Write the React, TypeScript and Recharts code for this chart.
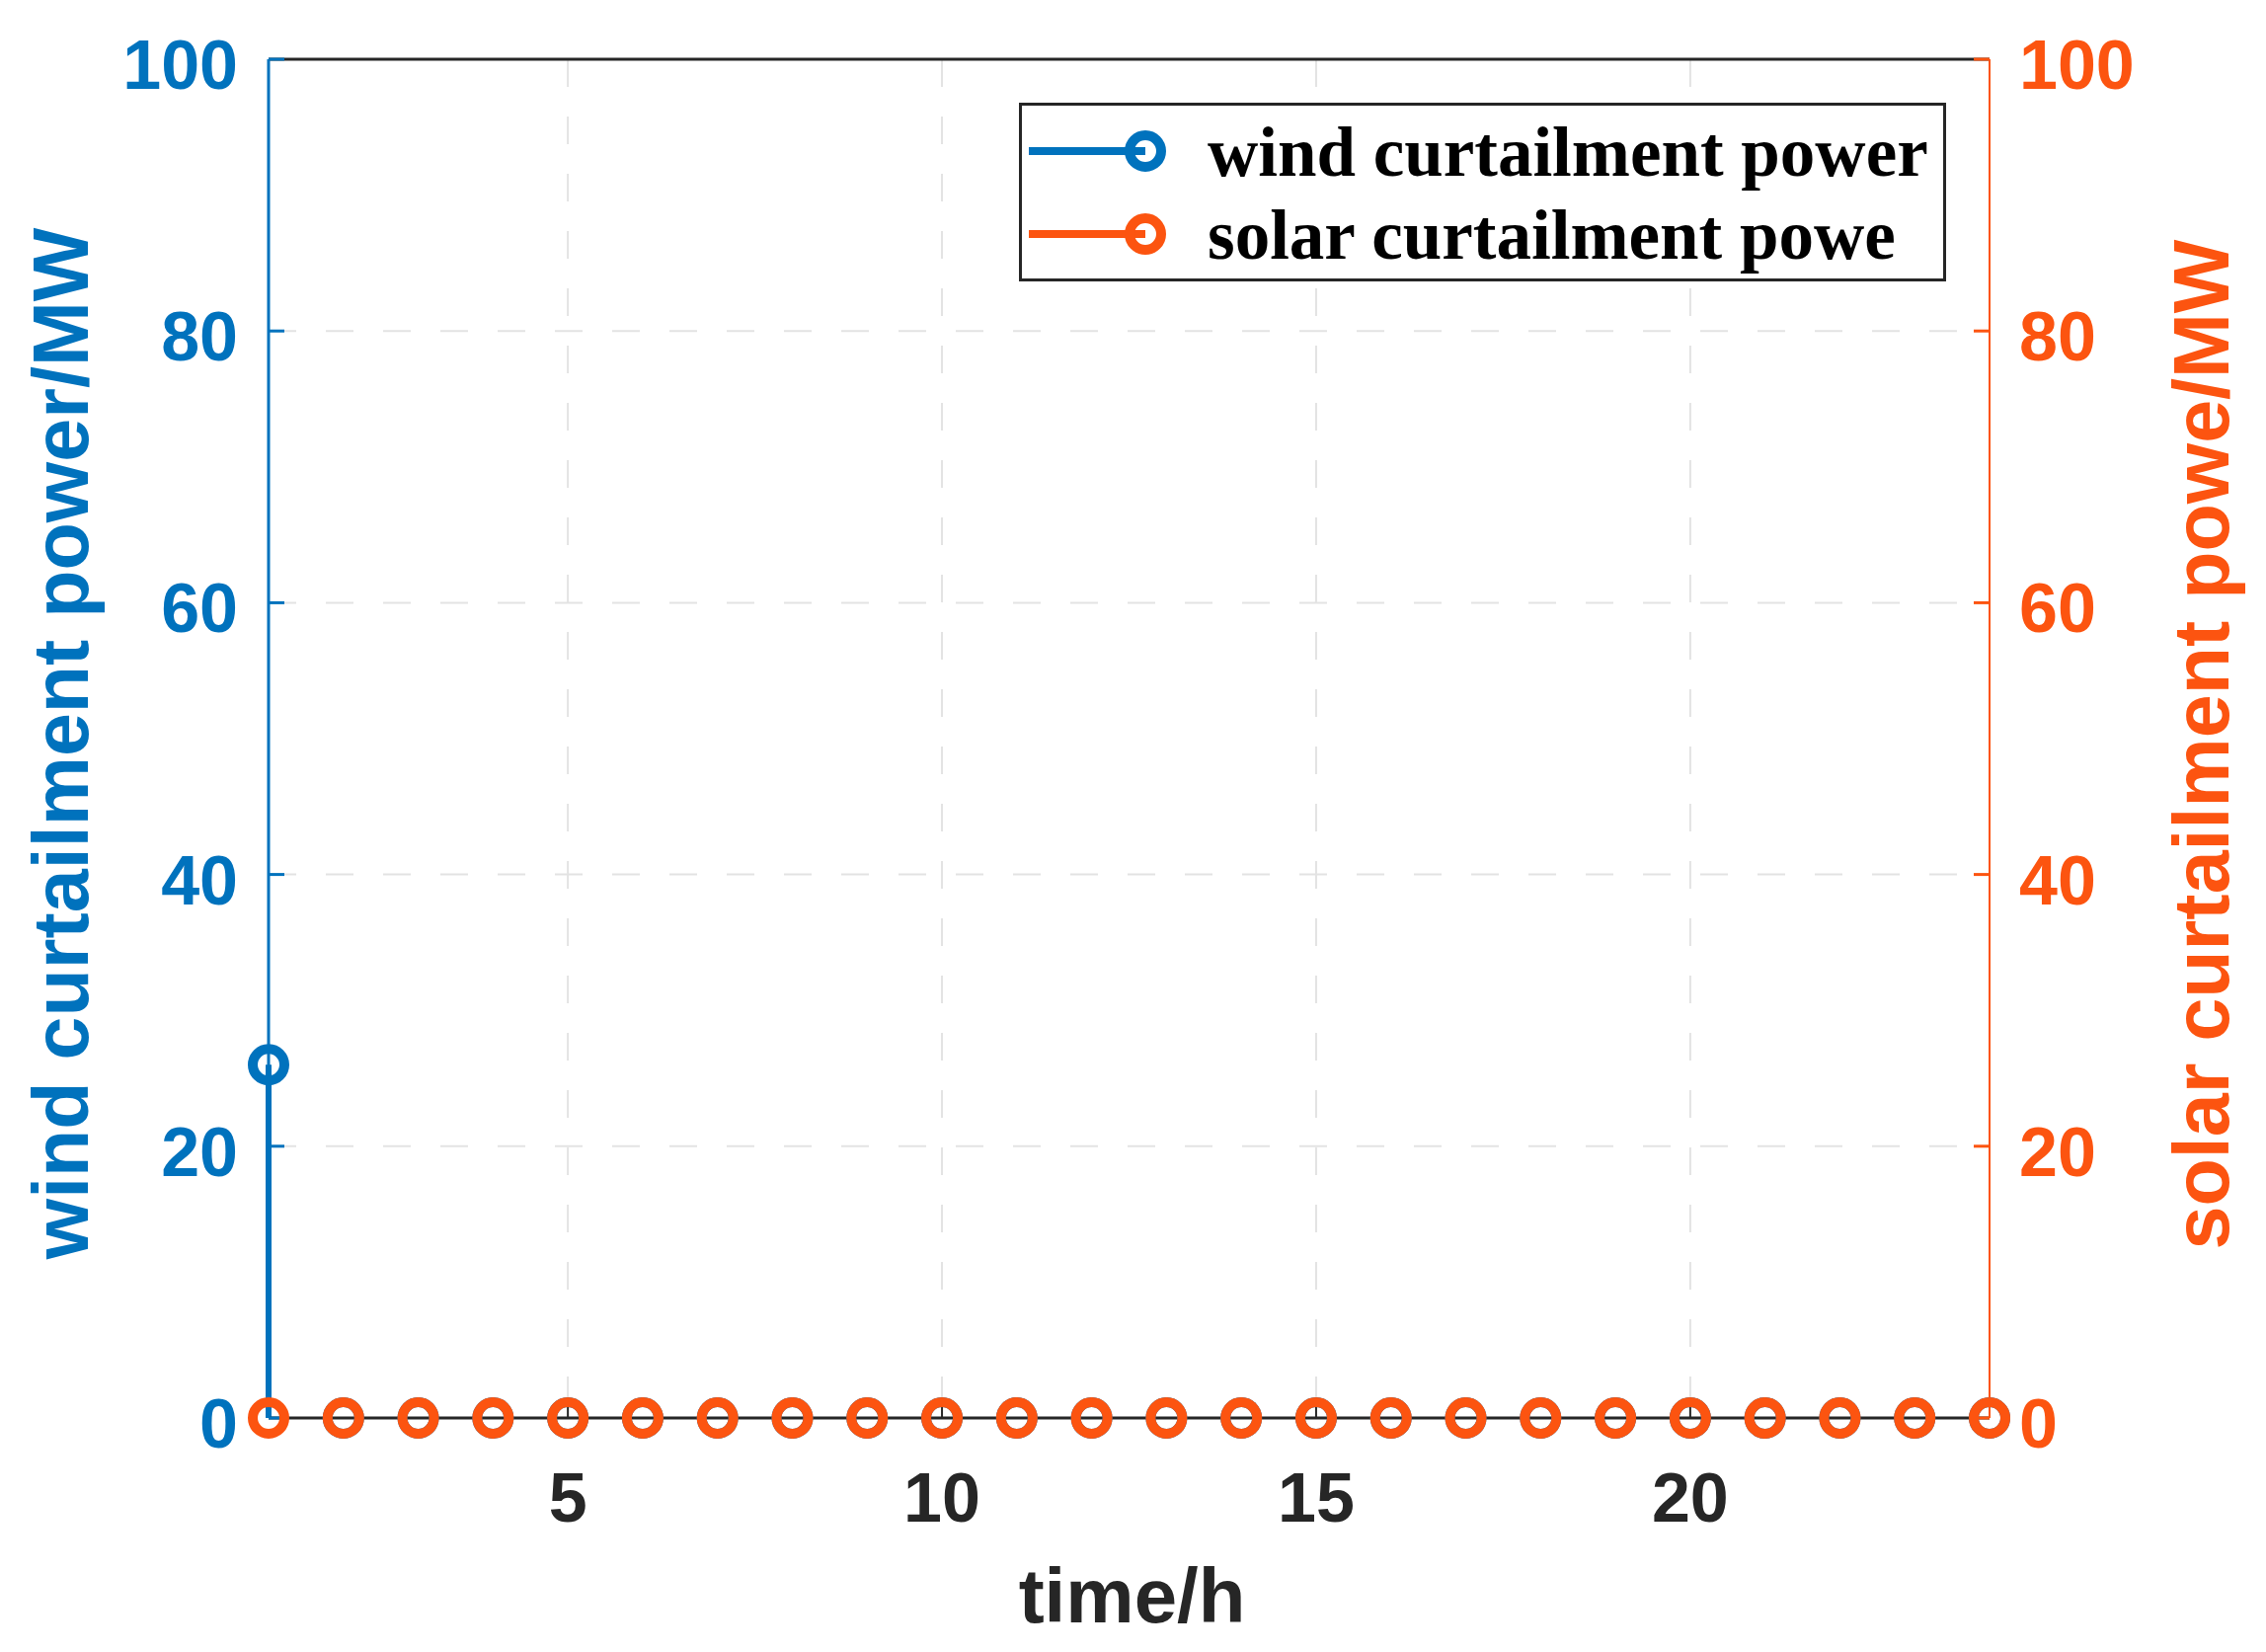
import React from "react";
import {
  ComposedChart,
  Scatter,
  ErrorBar,
  XAxis,
  YAxis,
  CartesianGrid,
  Legend,
} from "recharts";

// hourly curtailment (MW)
const hours = [1, 2, 3, 4, 5, 6, 7, 8, 9, 10, 11, 12, 13, 14, 15, 16, 17, 18, 19, 20, 21, 22, 23, 24];
const windCurtailment = [26, 0, 0, 0, 0, 0, 0, 0, 0, 0, 0, 0, 0, 0, 0, 0, 0, 0, 0, 0, 0, 0, 0, 0];
const solarCurtailment = [0, 0, 0, 0, 0, 0, 0, 0, 0, 0, 0, 0, 0, 0, 0, 0, 0, 0, 0, 0, 0, 0, 0, 0];

const xTicks = [5, 10, 15, 20];
const yTicks = [0, 20, 40, 60, 80, 100];

const BLUE = "#0072BD";
const ORANGE = "#FC5410";
const DARK = "#262626";
const SANS = "'Liberation Sans', Arial, sans-serif";
const SERIF = "'Liberation Serif', 'Times New Roman', serif";

const data = hours.map((h, i) => ({
  hour: h,
  wind: windCurtailment[i],
  solar: solarCurtailment[i],
  windStem: [windCurtailment[i], 0],
  solarStem: [solarCurtailment[i], 0],
}));

const seriesColor: Record<string, string> = { wind: BLUE, solar: ORANGE };
const legendOrder = ["wind", "solar"];

function ring(color: string) {
  return (p: any) => (
    <circle cx={p.cx} cy={p.cy} r={16} fill="none" stroke={color} strokeWidth={10} />
  );
}

const tickText = { fontSize: 70, fontWeight: "bold" as const, fontFamily: SANS };

function LeftTick({ x, y, payload }: any) {
  return (
    <text x={x - 31} y={y + 30} textAnchor="end" fill={BLUE} {...tickText}>
      {payload.value}
    </text>
  );
}

function RightTick({ x, y, payload }: any) {
  return (
    <text x={x + 30} y={y + 30} textAnchor="start" fill={ORANGE} {...tickText}>
      {payload.value}
    </text>
  );
}

function BottomTick({ x, y, payload }: any) {
  return (
    <text x={x} y={y + 105} textAnchor="middle" fill={DARK} {...tickText}>
      {payload.value}
    </text>
  );
}

function LegendBox({ payload }: any) {
  const rows = legendOrder
    .map((k) => (payload || []).find((e: any) => e.dataKey === k))
    .filter(Boolean);
  return (
    <div
      style={{
        width: 939,
        height: 181,
        boxSizing: "border-box",
        border: `3px solid ${DARK}`,
        background: "#fff",
      }}
    >
      <svg width={933} height={175} style={{ display: "block" }}>
        {rows.map((e: any, i: number) => {
          const cy = 46 + i * 84;
          const c = seriesColor[e.dataKey] || e.color;
          return (
            <g key={e.value}>
              <line x1={7} x2={125} y1={cy} y2={cy} stroke={c} strokeWidth={8} />
              <circle cx={125} cy={cy} r={16} fill="none" stroke={c} strokeWidth={10} />
              <text
                x={188}
                y={cy + 25}
                fill="#000"
                fontSize={71}
                fontWeight="bold"
                fontFamily={SERIF}
              >
                {e.value}
              </text>
            </g>
          );
        })}
      </svg>
    </div>
  );
}

export default function App() {
  return (
    <div style={{ position: "absolute", left: 0, top: 0, width: 2295, height: 1673, background: "#fff" }}>
      <ComposedChart width={2295} height={1673} data={data} margin={{ top: 59, right: 0, bottom: 0, left: 0 }}>
        <CartesianGrid
          xAxisId="bottom"
          yAxisId="left"
          stroke="#e3e3e3"
          strokeWidth={2}
          strokeDasharray="28 30"
        />
        <Legend
          layout="horizontal"
          verticalAlign="middle"
          align="center"
          content={<LegendBox />}
          wrapperStyle={{ position: "absolute", left: 1032, top: 104, width: 939, height: 181 }}
        />

        <Scatter
          name="wind curtailment power"
          dataKey="wind"
          xAxisId="bottom"
          yAxisId="left"
          fill={BLUE}
          shape={ring(BLUE)}
          isAnimationActive={false}
        >
          <ErrorBar dataKey="windStem" direction="y" width={0} stroke={BLUE} strokeWidth={6} isAnimationActive={false} />
        </Scatter>
        <Scatter
          name="solar curtailment powe"
          dataKey="solar"
          xAxisId="bottom"
          yAxisId="right"
          fill={ORANGE}
          shape={ring(ORANGE)}
          isAnimationActive={false}
        >
          <ErrorBar dataKey="solarStem" direction="y" width={0} stroke={ORANGE} strokeWidth={6} isAnimationActive={false} />
        </Scatter>

        <XAxis
          xAxisId="bottom"
          dataKey="hour"
          type="number"
          domain={[1, 24]}
          ticks={xTicks}
          interval={0}
          height={237}
          axisLine={{ stroke: DARK, strokeWidth: 3 }}
          tickLine={{ stroke: DARK, strokeWidth: 2 }}
          tickSize={-16}
          tickMargin={16}
          tick={<BottomTick />}
          label={{
            content: ({ viewBox }: any) => (
              <text
                x={viewBox.x + viewBox.width / 2 + 3}
                y={viewBox.y + 207}
                textAnchor="middle"
                fill={DARK}
                fontSize={78}
                fontWeight="bold"
                fontFamily={SANS}
              >
                time/h
              </text>
            ),
          }}
        />
        <XAxis
          xAxisId="top"
          orientation="top"
          dataKey="hour"
          type="number"
          domain={[1, 24]}
          ticks={xTicks}
          interval={0}
          height={1}
          axisLine={{ stroke: DARK, strokeWidth: 3 }}
          tickLine={{ stroke: DARK, strokeWidth: 2 }}
          tickSize={-16}
          tick={false}
        />
        <YAxis
          yAxisId="left"
          orientation="left"
          domain={[0, 100]}
          ticks={yTicks}
          interval={0}
          width={272}
          axisLine={{ stroke: BLUE, strokeWidth: 3 }}
          tickLine={{ stroke: BLUE, strokeWidth: 3 }}
          tickSize={-16}
          tickMargin={16}
          tick={<LeftTick />}
          label={{
            content: ({ viewBox }: any) => {
              const cy = viewBox.y + viewBox.height / 2 + 5;
              return (
                <text
                  transform={`translate(89, ${cy}) rotate(-90)`}
                  textAnchor="middle"
                  fill={BLUE}
                  fontSize={79}
                  fontWeight="bold"
                  fontFamily={SANS}
                >
                  wind curtailment power/MW
                </text>
              );
            },
          }}
        />
        <YAxis
          yAxisId="right"
          orientation="right"
          domain={[0, 100]}
          ticks={yTicks}
          interval={0}
          width={280}
          axisLine={{ stroke: ORANGE, strokeWidth: 2 }}
          tickLine={{ stroke: ORANGE, strokeWidth: 3 }}
          tickSize={-16}
          tickMargin={16}
          tick={<RightTick />}
          label={{
            content: ({ viewBox }: any) => {
              const cy = viewBox.y + viewBox.height / 2 + 6;
              return (
                <text
                  transform={`translate(${viewBox.x + 242}, ${cy}) rotate(-90)`}
                  textAnchor="middle"
                  fill={ORANGE}
                  fontSize={79}
                  fontWeight="bold"
                  fontFamily={SANS}
                >
                  solar curtailment powe/MW
                </text>
              );
            },
          }}
        />
      </ComposedChart>
    </div>
  );
}
